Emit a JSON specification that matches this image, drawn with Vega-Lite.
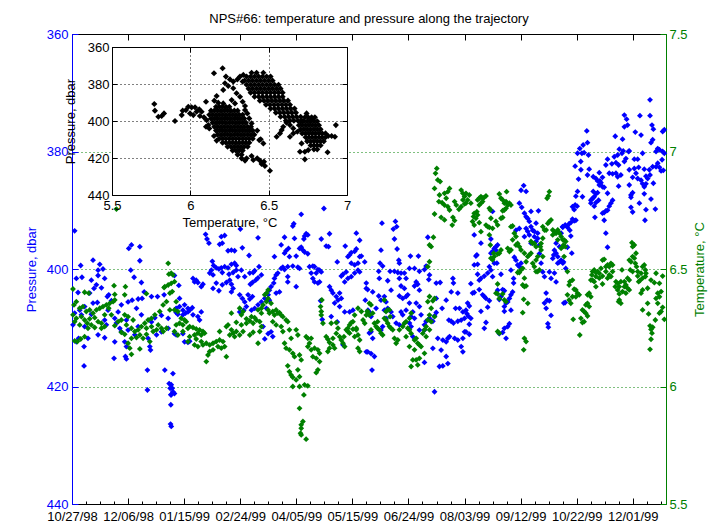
{
"$schema":"https://vega.github.io/schema/vega-lite/v6.json",
"width":594,"height":470,
"autosize":{"type":"none"},
"padding":{"left":72,"top":34,"right":55,"bottom":24},
"background":"white",
"title":{"text":"NPS#66: temperature and pressure along the trajectory","font":"Liberation Sans","fontSize":13,"fontWeight":"normal","color":"#000000","offset":2},
"config":{"view":{"stroke":null},"axis":{"labelFont":"Liberation Sans","labelFontSize":13,"titleFont":"Liberation Sans","titleFontSize":13,"titleFontWeight":"normal","domainWidth":1,"tickWidth":1,"labelFlush":false,"labelOverlap":false}},
"datasets":{
"P":[
{"d":1.9,"p":393.5},{"d":42.4,"p":395.9},{"d":40.5,"p":396.5},{"d":48.4,"p":396.2},{"d":15,"p":398.5},{"d":6.2,"p":399.4},{"d":19.8,"p":399.2},{"d":22.1,"p":400},{"d":18.6,"p":400.2},{"d":41.9,"p":400.2},{"d":48.4,"p":398.6},{"d":3.1,"p":401.6},{"d":7.1,"p":401.4},{"d":13.8,"p":401.9},{"d":18.6,"p":401.1},{"d":23.3,"p":401.6},{"d":44.3,"p":401.4},{"d":49.5,"p":402.3},{"d":17.4,"p":402.7},{"d":15.7,"p":403.3},{"d":21,"p":403.2},{"d":4.3,"p":404},{"d":12.6,"p":404.1},{"d":26.2,"p":404.4},{"d":25.2,"p":404.7},{"d":51.5,"p":403.9},{"d":56.7,"p":404.7},{"d":61,"p":404.7},{"d":65.7,"p":404.4},{"d":28.1,"p":405.4},{"d":35.2,"p":406.1},{"d":40,"p":405.6},{"d":42.9,"p":405.3},{"d":47.2,"p":405.1},{"d":50,"p":405},{"d":46,"p":406.7},{"d":15,"p":405.8},{"d":18.1,"p":405.7},{"d":9,"p":406.4},{"d":5.5,"p":407},{"d":1.9,"p":407.5},{"d":6.7,"p":407.8},{"d":13.8,"p":407.7},{"d":25.7,"p":407},{"d":32.9,"p":407.3},{"d":30.5,"p":408.4},{"d":23.3,"p":408.7},{"d":38.8,"p":408.7},{"d":49.5,"p":407.8},{"d":59.1,"p":408.3},{"d":63.8,"p":407.9},{"d":68.6,"p":408.4},{"d":0.7,"p":409.5},{"d":9,"p":409.8},{"d":24.5,"p":409.5},{"d":31.7,"p":409.2},{"d":34.1,"p":410.1},{"d":35.2,"p":410.7},{"d":40,"p":410.4},{"d":47.2,"p":409.8},{"d":56.7,"p":409},{"d":60.3,"p":411.2},{"d":63.8,"p":410.7},{"d":68.6,"p":410.1},{"d":4.7,"p":411.8},{"d":11.4,"p":411.8},{"d":18.6,"p":411.2},{"d":23.3,"p":411.7},{"d":30.5,"p":412.4},{"d":37.6,"p":412.4},{"d":38.8,"p":413.2},{"d":44.8,"p":411.2},{"d":54.3,"p":411.8},{"d":55.5,"p":413.2},{"d":56,"p":413.8},{"d":3.1,"p":412.4},{"d":8.6,"p":413.2},{"d":30,"p":415.2},{"d":38.1,"p":414.9},{"d":38.8,"p":415.3},{"d":8.6,"p":416.5},{"d":53.8,"p":417.2},{"d":66.2,"p":417.2},{"d":53.8,"p":420.6},{"d":69.3,"p":419.5},{"d":70,"p":420.3},{"d":70.5,"p":421.4},{"d":70.5,"p":423.1},
{"d":95.3,"p":394.1},{"d":96.3,"p":394.9},{"d":97.7,"p":395.6},{"d":106.5,"p":394.5},{"d":108.9,"p":394.3},{"d":105.3,"p":395.8},{"d":107.2,"p":395.6},{"d":120.1,"p":393.2},{"d":132.7,"p":394.7},{"d":126.3,"p":397.7},{"d":111.3,"p":396.9},{"d":113.7,"p":396.8},{"d":116,"p":396.9},{"d":121.5,"p":396.4},{"d":100.1,"p":398.7},{"d":101,"p":399.4},{"d":102.9,"p":399.8},{"d":104.8,"p":400},{"d":106.5,"p":399.8},{"d":108.9,"p":399.6},{"d":111.3,"p":399.8},{"d":113.7,"p":399.2},{"d":116,"p":399},{"d":117.2,"p":399.4},{"d":99.4,"p":400.2},{"d":98.2,"p":400.7},{"d":100.6,"p":401},{"d":107.2,"p":400.6},{"d":112,"p":400.9},{"d":114.9,"p":400.6},{"d":117.2,"p":400.2},{"d":118.4,"p":401.3},{"d":123.2,"p":401.3},{"d":126.8,"p":400.7},{"d":129.2,"p":400.6},{"d":130.3,"p":400.3},{"d":133.4,"p":399.6},{"d":135.1,"p":401},{"d":132.7,"p":401.5},{"d":131,"p":401.9},{"d":128.7,"p":402.3},{"d":127.2,"p":402.6},{"d":120.8,"p":400.2},{"d":112.5,"p":401.9},{"d":113.7,"p":402.6},{"d":114.9,"p":403.3},{"d":113.7,"p":403.9},{"d":110.1,"p":402.3},{"d":107.2,"p":402.7},{"d":102.9,"p":402.4},{"d":104.8,"p":403.7},{"d":100.6,"p":403.3},{"d":93.4,"p":402.6},{"d":92.2,"p":403},{"d":89.8,"p":402.3},{"d":88.6,"p":401.9},{"d":87.4,"p":402.2},{"d":86.3,"p":401.6},{"d":76.2,"p":402.8},{"d":73.1,"p":401.1},{"d":76.7,"p":405},{"d":80.3,"p":406.1},{"d":79.1,"p":407},{"d":76.7,"p":406.4},{"d":74.3,"p":406.7},{"d":82.7,"p":406.7},{"d":83.9,"p":407},{"d":85.8,"p":406.6},{"d":82.7,"p":407.3},{"d":81,"p":407.5},{"d":79.1,"p":407.8},{"d":75.5,"p":407.7},{"d":74.3,"p":407.4},{"d":86.3,"p":407.8},{"d":89.8,"p":408.1},{"d":91,"p":408.7},{"d":92.2,"p":407.3},{"d":119.6,"p":404.4},{"d":121.5,"p":405},{"d":123.2,"p":405.6},{"d":125.6,"p":404.4},{"d":126.8,"p":405.1},{"d":128.7,"p":404.7},{"d":124.4,"p":406.4},{"d":122.5,"p":407},{"d":119.6,"p":407.3},{"d":128,"p":407},{"d":130.3,"p":406.7},{"d":132.7,"p":406.1},{"d":135.1,"p":405.6},{"d":137.5,"p":405},{"d":138.7,"p":406.7},{"d":139.9,"p":404.4},{"d":73.1,"p":411},{"d":74.3,"p":411.2},{"d":79.1,"p":411},{"d":80.3,"p":412.4},{"d":82.7,"p":412.5},{"d":83.9,"p":412.3},{"d":136.3,"p":409.8},{"d":139.9,"p":411},{"d":137.5,"p":411.9},{"d":72,"p":417.8},{"d":70.8,"p":419.7},{"d":71.5,"p":420.3},{"d":72,"p":420.9},{"d":70.8,"p":421.4},{"d":73.1,"p":421.2},{"d":70.3,"p":426.4},{"d":70.8,"p":426.8},
{"d":163.5,"p":390.7},{"d":179.7,"p":389.7},{"d":158.2,"p":392.3},{"d":157.5,"p":392.7},{"d":151.6,"p":394.6},{"d":158.7,"p":394.8},{"d":165.9,"p":394.4},{"d":167,"p":394},{"d":168.2,"p":394.2},{"d":165.4,"p":394.9},{"d":177.8,"p":394.9},{"d":183.7,"p":394},{"d":181.3,"p":396.1},{"d":183,"p":396.2},{"d":202.8,"p":393.9},{"d":205.2,"p":395.1},{"d":149.2,"p":395.9},{"d":154.4,"p":396.5},{"d":152.7,"p":396.9},{"d":151.6,"p":397.3},{"d":163.5,"p":396.3},{"d":164.7,"p":396.8},{"d":165.9,"p":397.1},{"d":162.3,"p":396.5},{"d":144.4,"p":397.9},{"d":155.1,"p":397.9},{"d":159.9,"p":397.8},{"d":168.2,"p":397.4},{"d":194.9,"p":396.1},{"d":199.2,"p":397.2},{"d":201.6,"p":397},{"d":202.8,"p":396.6},{"d":198,"p":397.6},{"d":196.8,"p":397.9},{"d":205.2,"p":397.9},{"d":206.4,"p":397.8},{"d":208.8,"p":398.8},{"d":204,"p":399},{"d":201.6,"p":399.3},{"d":199.2,"p":399},{"d":189.2,"p":398.8},{"d":150.4,"p":399.7},{"d":151.6,"p":400.1},{"d":149.2,"p":399.9},{"d":146.8,"p":400.7},{"d":153.9,"p":399.6},{"d":157.5,"p":399.5},{"d":162.3,"p":399.9},{"d":161.1,"p":399.7},{"d":169.4,"p":399.6},{"d":171.8,"p":399.5},{"d":173,"p":399.6},{"d":175.4,"p":400.1},{"d":176.6,"p":400.2},{"d":177.8,"p":400.5},{"d":174.2,"p":400.7},{"d":170.6,"p":400.7},{"d":171.8,"p":401.6},{"d":173,"p":402.2},{"d":175.4,"p":402.4},{"d":176.6,"p":402.2},{"d":153.9,"p":402.2},{"d":159.9,"p":403},{"d":145.6,"p":401},{"d":144.4,"p":401.6},{"d":143.9,"p":402.4},{"d":142,"p":403},{"d":140.8,"p":403.6},{"d":145.6,"p":404.1},{"d":148,"p":403.9},{"d":153.9,"p":401.3},{"d":195.6,"p":400.5},{"d":193.3,"p":400.9},{"d":192.1,"p":401.2},{"d":194.5,"p":402.2},{"d":196.8,"p":401.6},{"d":199.2,"p":401.3},{"d":201.6,"p":400.7},{"d":204,"p":400.2},{"d":205.2,"p":400.5},{"d":183.7,"p":403},{"d":184.9,"p":403.6},{"d":186.1,"p":404.1},{"d":188.5,"p":404.7},{"d":189.7,"p":405.3},{"d":190.9,"p":404.1},{"d":192.1,"p":405},{"d":187.3,"p":405.8},{"d":190.9,"p":406.4},{"d":189.2,"p":409},{"d":177.3,"p":405.4},{"d":178.5,"p":408.6},{"d":184.9,"p":408.1},{"d":194.5,"p":407.3},{"d":198,"p":407.3},{"d":200.4,"p":407},{"d":209.9,"p":402.4},{"d":209.9,"p":403.3},{"d":209.2,"p":405.3},{"d":211.1,"p":407},{"d":142,"p":410.7},{"d":143.2,"p":411.5},{"d":193.3,"p":412.9},{"d":209.9,"p":414.1},{"d":140.8,"p":405.3},
{"d":221.1,"p":392.2},{"d":230.7,"p":391.9},{"d":231.6,"p":392.8},{"d":229.2,"p":393.2},{"d":230,"p":394.9},{"d":231.9,"p":396.6},{"d":220.4,"p":396.8},{"d":233.1,"p":398.5},{"d":233.5,"p":399},{"d":241.4,"p":397.8},{"d":247.1,"p":397.8},{"d":253.8,"p":394.6},{"d":219.7,"p":399},{"d":221.6,"p":399.5},{"d":218.8,"p":400.4},{"d":226.9,"p":400.4},{"d":230,"p":400.4},{"d":232.4,"p":400.6},{"d":234.7,"p":400.7},{"d":237.1,"p":400.7},{"d":240.7,"p":399.9},{"d":244.3,"p":399.9},{"d":247.8,"p":400.4},{"d":251.4,"p":400.1},{"d":252.6,"p":399.5},{"d":255,"p":401},{"d":254.5,"p":401.8},{"d":259.8,"p":402.4},{"d":262.6,"p":402.3},{"d":271.7,"p":401.6},{"d":272.1,"p":402.4},{"d":219.2,"p":401.6},{"d":225.2,"p":402},{"d":233.5,"p":401.6},{"d":238.3,"p":401.6},{"d":245.5,"p":402.2},{"d":246.6,"p":402.6},{"d":244.3,"p":402.9},{"d":247.8,"p":403.6},{"d":234.7,"p":402.9},{"d":237.1,"p":403.3},{"d":239.5,"p":404.4},{"d":238.3,"p":404.7},{"d":235.9,"p":405},{"d":233.5,"p":404.6},{"d":227.6,"p":403.6},{"d":222.8,"p":404.7},{"d":224,"p":405.6},{"d":220.4,"p":405.3},{"d":214.5,"p":403.9},{"d":218.8,"p":404.6},{"d":210.9,"p":403.5},{"d":216.9,"p":406.7},{"d":212.1,"p":407.3},{"d":213.3,"p":408.1},{"d":222.8,"p":407},{"d":225.2,"p":406.7},{"d":227.6,"p":407.3},{"d":228.8,"p":408.1},{"d":234.7,"p":407.3},{"d":235.9,"p":407.8},{"d":238.3,"p":407},{"d":240.7,"p":405.8},{"d":243.1,"p":407.3},{"d":244.3,"p":408.4},{"d":241.9,"p":408.1},{"d":245.5,"p":405.8},{"d":247.8,"p":406.4},{"d":249,"p":407.8},{"d":251.4,"p":409.5},{"d":252.6,"p":408.9},{"d":255,"p":408.4},{"d":257.4,"p":408.9},{"d":258.6,"p":408},{"d":259.8,"p":407.4},{"d":259.8,"p":405},{"d":266.9,"p":405.3},{"d":270.5,"p":403.9},{"d":275.2,"p":404.1},{"d":264,"p":406.7},{"d":273.6,"p":406.7},{"d":276.4,"p":406.7},{"d":278.8,"p":407.3},{"d":275.2,"p":408.9},{"d":277.6,"p":408.7},{"d":280,"p":408.4},{"d":268.8,"p":408.7},{"d":270.5,"p":408.9},{"d":272.1,"p":409.2},{"d":213.3,"p":410.7},{"d":212.1,"p":410.9},{"d":214.5,"p":411.8},{"d":210.9,"p":414.1},{"d":213.3,"p":414.4},{"d":215.7,"p":414.9},{"d":214,"p":417.2},{"d":224,"p":408.4},{"d":221.6,"p":409.8},{"d":220.4,"p":410.4},{"d":231.2,"p":409.2},{"d":233.5,"p":409.5},{"d":240.7,"p":409.2},{"d":241.9,"p":409.8},{"d":247.8,"p":410.4},{"d":243.1,"p":411.5},{"d":251.4,"p":410.4},{"d":260.9,"p":411.8},{"d":264.5,"p":412.1},{"d":266.9,"p":412.4},{"d":268.1,"p":411.8},{"d":269.3,"p":411.5},{"d":272.9,"p":411.8},{"d":275.2,"p":412.1},{"d":278.8,"p":411.8},{"d":280,"p":410.7},{"d":257.4,"p":413.5},{"d":263.3,"p":413.8},{"d":266.9,"p":414.9},{"d":262.1,"p":416.6},{"d":264.5,"p":416.5},{"d":268.1,"p":416.1},{"d":251.4,"p":415.9},{"d":277.6,"p":413.2},{"d":278.8,"p":414.1},{"d":258.6,"p":420.9},
{"d":322.2,"p":385.8},{"d":320.3,"p":386.6},{"d":323.9,"p":386.8},{"d":319.1,"p":388.8},{"d":320.8,"p":389.5},{"d":322.7,"p":390.5},{"d":323.9,"p":391.1},{"d":325.1,"p":391.4},{"d":327.4,"p":390.2},{"d":332.7,"p":390.1},{"d":326.2,"p":391.9},{"d":319.1,"p":393.1},{"d":316.7,"p":393.4},{"d":323.9,"p":393.1},{"d":327.4,"p":392.8},{"d":328.6,"p":393.4},{"d":329.8,"p":393.6},{"d":331,"p":392.2},{"d":325.1,"p":393.6},{"d":326.2,"p":394.2},{"d":329.8,"p":394.5},{"d":332.2,"p":394.8},{"d":331,"p":395.3},{"d":333.4,"p":395.9},{"d":322.7,"p":394.5},{"d":327.4,"p":395.6},{"d":300,"p":390.2},{"d":286.9,"p":394.2},{"d":291.7,"p":395.6},{"d":298.8,"p":394.9},{"d":303.6,"p":395.9},{"d":302.4,"p":396.2},{"d":301.2,"p":396.5},{"d":300,"p":397},{"d":302.4,"p":396.8},{"d":298.8,"p":397.3},{"d":301.2,"p":399},{"d":303.1,"p":399},{"d":297.7,"p":399.6},{"d":298.8,"p":400.2},{"d":286.9,"p":399.3},{"d":289.3,"p":399.2},{"d":288.1,"p":397.8},{"d":288.8,"p":397.6},{"d":296.5,"p":400.7},{"d":294.1,"p":401.2},{"d":291.7,"p":401.6},{"d":290.5,"p":401.9},{"d":289.3,"p":400.9},{"d":284.5,"p":402.5},{"d":285.7,"p":404.1},{"d":286.9,"p":404},{"d":290.5,"p":403.5},{"d":292.9,"p":404.4},{"d":294.1,"p":404.7},{"d":295.3,"p":405},{"d":297.7,"p":405.4},{"d":306,"p":400.9},{"d":313.1,"p":400.2},{"d":315.5,"p":398},{"d":316.7,"p":398.5},{"d":317.9,"p":399.3},{"d":319.1,"p":399.6},{"d":320.3,"p":399},{"d":315,"p":401.6},{"d":315,"p":402.4},{"d":314.3,"p":403.9},{"d":313.1,"p":404.4},{"d":312,"p":405},{"d":310.8,"p":405.6},{"d":309.6,"p":405.8},{"d":308.4,"p":406.4},{"d":306,"p":404.7},{"d":304.8,"p":405.2},{"d":303.6,"p":403.6},{"d":307.2,"p":403.5},{"d":308.4,"p":403.7},{"d":300,"p":401.3},{"d":296.5,"p":406.5},{"d":291.7,"p":407.2},{"d":308.4,"p":407.2},{"d":313.1,"p":407},{"d":282.2,"p":405.8},{"d":283.4,"p":406.3},{"d":281,"p":407},{"d":281.7,"p":407.6},{"d":282.6,"p":408},{"d":284.5,"p":408.4},{"d":283.4,"p":409.4},{"d":283.4,"p":411.1},{"d":281,"p":410.7},{"d":295.3,"p":409.1},{"d":294.1,"p":410.1},{"d":312,"p":409.3},{"d":310.8,"p":409.8},{"d":308.4,"p":410.1},{"d":307.2,"p":410.8},{"d":309.6,"p":411.8},{"d":304.8,"p":411},{"d":335.8,"p":400.5},{"d":337,"p":401.3},{"d":340.5,"p":400.5},{"d":341.7,"p":401.6},{"d":345.3,"p":402.2},{"d":344.1,"p":400.7},{"d":346.5,"p":399},{"d":347.7,"p":398.8},{"d":348.9,"p":398.5},{"d":344.1,"p":396.8},{"d":345.3,"p":397.3},{"d":346.5,"p":397.9},{"d":347.7,"p":396.2},{"d":350.1,"p":399},{"d":338.2,"p":404.1},{"d":338.9,"p":405.3},{"d":340.5,"p":405.4},{"d":338.2,"p":406.7},{"d":337,"p":405.8},{"d":341.7,"p":407.9},{"d":339.4,"p":409.3},{"d":339.8,"p":409.9},{"d":350.8,"p":405.8},{"d":334.6,"p":399},{"d":333.4,"p":397.4},{"d":342.9,"p":398.2},{"d":343.6,"p":397.6},{"d":345.3,"p":395.6},{"d":350.1,"p":392.9},{"d":348.9,"p":393.9},{"d":332.2,"p":393.9},
{"d":412.3,"p":371.2},{"d":405.1,"p":373.9},{"d":412.3,"p":373.9},{"d":394,"p":373.8},{"d":395.6,"p":374.5},{"d":394,"p":375.8},{"d":396.3,"p":375.5},{"d":413.7,"p":375.5},{"d":414.7,"p":376.2},{"d":421.3,"p":376.6},{"d":422.5,"p":376.3},{"d":367.2,"p":376.5},{"d":387.5,"p":377.4},{"d":392.7,"p":377.9},{"d":405.9,"p":377.2},{"d":401.8,"p":376.7},{"d":414.2,"p":378},{"d":413,"p":378.5},{"d":364.6,"p":378.9},{"d":367.7,"p":378.5},{"d":362.2,"p":379.5},{"d":363.7,"p":380.3},{"d":365.3,"p":380.2},{"d":360.6,"p":380.3},{"d":368.4,"p":380.6},{"d":390.4,"p":379.6},{"d":393.2,"p":379.9},{"d":397,"p":380},{"d":397.5,"p":379.9},{"d":392.3,"p":380.3},{"d":389.2,"p":380.6},{"d":386.8,"p":380.9},{"d":382,"p":381.3},{"d":385.1,"p":382.1},{"d":388,"p":381.9},{"d":389.9,"p":382.3},{"d":394,"p":381.7},{"d":395.1,"p":381.2},{"d":407,"p":380.3},{"d":401.1,"p":381.3},{"d":403.5,"p":381.3},{"d":416.6,"p":380},{"d":417.8,"p":379.5},{"d":419,"p":379.7},{"d":421.3,"p":380},{"d":422.5,"p":380.3},{"d":417.8,"p":382},{"d":416.6,"p":382.6},{"d":419,"p":382.7},{"d":420.2,"p":383.3},{"d":421.8,"p":383.2},{"d":420.9,"p":381.4},{"d":414.2,"p":382.6},{"d":411.8,"p":383.1},{"d":412.3,"p":384},{"d":410.6,"p":384.6},{"d":409.4,"p":384.2},{"d":407,"p":385.5},{"d":409.4,"p":385.5},{"d":408.2,"p":386},{"d":405.9,"p":384.9},{"d":403.5,"p":384.6},{"d":402.3,"p":383.7},{"d":401.1,"p":382.9},{"d":404.2,"p":382.7},{"d":408.2,"p":383},{"d":362.9,"p":381.7},{"d":358.9,"p":382.5},{"d":368.9,"p":383},{"d":363,"p":383.1},{"d":361.3,"p":384.7},{"d":367.7,"p":384},{"d":371.8,"p":384.3},{"d":376.1,"p":383.6},{"d":380.8,"p":382.3},{"d":383.2,"p":383.7},{"d":385.6,"p":383.8},{"d":388,"p":383.7},{"d":389.2,"p":384.3},{"d":391.5,"p":384},{"d":397.5,"p":383.1},{"d":399.9,"p":384.4},{"d":378.4,"p":384.4},{"d":376.5,"p":385},{"d":376.1,"p":385.7},{"d":378.4,"p":386},{"d":379.6,"p":386.1},{"d":377.3,"p":385.3},{"d":374.9,"p":385},{"d":373.7,"p":384.6},{"d":382,"p":387.1},{"d":389.9,"p":385.9},{"d":397.5,"p":385.7},{"d":398.7,"p":387.4},{"d":399.9,"p":387},{"d":398.7,"p":387.8},{"d":414.7,"p":385.4},{"d":408.2,"p":387.2},{"d":404.7,"p":388.8},{"d":409.4,"p":389.9},{"d":416.1,"p":389.8},{"d":413,"p":388.1},{"d":398.7,"p":389.5},{"d":399.9,"p":390.3},{"d":408.7,"p":391.7},{"d":360.6,"p":386.8},{"d":359.4,"p":387.6},{"d":357,"p":389.4},{"d":358.9,"p":389.1},{"d":360.3,"p":389.3},{"d":364.1,"p":387.7},{"d":370.1,"p":388.3},{"d":371.3,"p":388},{"d":372.5,"p":387.7},{"d":373.7,"p":387.2},{"d":374.9,"p":387},{"d":371.8,"p":386.8},{"d":370.1,"p":388.8},{"d":372.5,"p":389.3},{"d":373.7,"p":388.7},{"d":375.6,"p":388.3},{"d":385.6,"p":388.3},{"d":384.4,"p":388.8},{"d":383.2,"p":389.3},{"d":382,"p":390},{"d":380.8,"p":390.1},{"d":379.6,"p":390.4},{"d":378.4,"p":390.5},{"d":373,"p":391.2},{"d":379.6,"p":391.7},{"d":358.2,"p":389.9},{"d":357,"p":391.5},{"d":359.4,"p":391.7},{"d":358.2,"p":391.8},{"d":355.8,"p":392.1},{"d":354.6,"p":392.3},{"d":353.4,"p":392.9},{"d":355.1,"p":393.4},{"d":351.8,"p":392.5},{"d":349.9,"p":392.8},{"d":355.8,"p":394.4},{"d":380.8,"p":393.9},{"d":382,"p":396.3},{"d":353.4,"p":396.3},{"d":356.5,"p":397.3},{"d":350.6,"p":398.8},{"d":352.2,"p":399.9},{"d":351.8,"p":405.7}
],
"T":[
{"d":31.7,"t":6.755},{"d":68.6,"t":6.524},{"d":69.1,"t":6.478},{"d":68.6,"t":6.432},{"d":69.8,"t":6.397},{"d":66.2,"t":6.425},{"d":0.7,"t":6.415},{"d":9,"t":6.401},{"d":11.9,"t":6.397},{"d":30,"t":6.429},{"d":30.5,"t":6.392},{"d":38.1,"t":6.425},{"d":37.6,"t":6.39},{"d":53.1,"t":6.395},{"d":65.7,"t":6.421},{"d":3.1,"t":6.361},{"d":1.4,"t":6.347},{"d":5.5,"t":6.333},{"d":7.8,"t":6.34},{"d":10.2,"t":6.319},{"d":12.6,"t":6.326},{"d":15,"t":6.312},{"d":17.4,"t":6.326},{"d":19.8,"t":6.333},{"d":22.1,"t":6.34},{"d":24.5,"t":6.347},{"d":26.9,"t":6.354},{"d":29.3,"t":6.361},{"d":30.5,"t":6.368},{"d":26.2,"t":6.333},{"d":23.3,"t":6.305},{"d":28.1,"t":6.305},{"d":0.7,"t":6.305},{"d":3.1,"t":6.29},{"d":6.7,"t":6.297},{"d":9,"t":6.283},{"d":12.6,"t":6.288},{"d":16.2,"t":6.293},{"d":18.6,"t":6.276},{"d":21,"t":6.269},{"d":23.3,"t":6.255},{"d":13.8,"t":6.262},{"d":10.9,"t":6.269},{"d":5.5,"t":6.262},{"d":1.9,"t":6.276},{"d":32.9,"t":6.276},{"d":35.2,"t":6.283},{"d":37.6,"t":6.305},{"d":40,"t":6.297},{"d":43.6,"t":6.283},{"d":38.8,"t":6.262},{"d":42.4,"t":6.248},{"d":44.8,"t":6.234},{"d":47.2,"t":6.241},{"d":49.5,"t":6.255},{"d":51.9,"t":6.269},{"d":54.3,"t":6.283},{"d":56.7,"t":6.29},{"d":59.1,"t":6.305},{"d":62.6,"t":6.319},{"d":65,"t":6.347},{"d":67.4,"t":6.361},{"d":69.8,"t":6.326},{"d":61.5,"t":6.262},{"d":63.8,"t":6.248},{"d":56.7,"t":6.255},{"d":53.1,"t":6.248},{"d":48.4,"t":6.219},{"d":46,"t":6.208},{"d":50.7,"t":6.205},{"d":42.4,"t":6.205},{"d":40,"t":6.184},{"d":41.2,"t":6.163},{"d":42.4,"t":6.137},{"d":48.4,"t":6.16},{"d":1.9,"t":6.194},{"d":6.2,"t":6.202},{"d":3.8,"t":6.191},{"d":9,"t":6.212},{"d":11.4,"t":6.248},{"d":16.2,"t":6.251},{"d":21,"t":6.248},{"d":30.5,"t":6.259},{"d":35.2,"t":6.231},{"d":37.6,"t":6.222},{"d":57.9,"t":6.234},{"d":60.3,"t":6.241},{"d":65,"t":6.234},{"d":67.4,"t":6.248},{"d":55.5,"t":6.191},{"d":53.1,"t":6.222},
{"d":70.8,"t":6.482},{"d":72,"t":6.475},{"d":70.8,"t":6.439},{"d":73.1,"t":6.446},{"d":71.5,"t":6.404},{"d":74.3,"t":6.361},{"d":73.1,"t":6.326},{"d":75.5,"t":6.319},{"d":77.9,"t":6.29},{"d":80.3,"t":6.283},{"d":81.5,"t":6.276},{"d":79.1,"t":6.262},{"d":76.7,"t":6.269},{"d":74.3,"t":6.262},{"d":73.1,"t":6.234},{"d":75.5,"t":6.219},{"d":79.1,"t":6.234},{"d":82.7,"t":6.248},{"d":83.9,"t":6.255},{"d":86.3,"t":6.251},{"d":88.6,"t":6.245},{"d":91,"t":6.241},{"d":93.4,"t":6.234},{"d":89.8,"t":6.227},{"d":87.4,"t":6.219},{"d":92.2,"t":6.219},{"d":94.6,"t":6.227},{"d":88.6,"t":6.202},{"d":92.2,"t":6.191},{"d":95.8,"t":6.184},{"d":93.4,"t":6.177},{"d":83.9,"t":6.212},{"d":82.7,"t":6.191},{"d":87.4,"t":6.177},{"d":89.8,"t":6.17},{"d":98.2,"t":6.177},{"d":100.6,"t":6.184},{"d":102.9,"t":6.191},{"d":105.3,"t":6.198},{"d":107.7,"t":6.191},{"d":104.1,"t":6.17},{"d":106.5,"t":6.163},{"d":100.6,"t":6.156},{"d":98.2,"t":6.149},{"d":97,"t":6.134},{"d":95.8,"t":6.106},{"d":110.1,"t":6.127},{"d":108.9,"t":6.17},{"d":105.3,"t":6.234},{"d":110.1,"t":6.255},{"d":113.7,"t":6.241},{"d":114.9,"t":6.227},{"d":117.2,"t":6.234},{"d":112.5,"t":6.219},{"d":116,"t":6.212},{"d":119.6,"t":6.219},{"d":122,"t":6.234},{"d":126.8,"t":6.219},{"d":129.2,"t":6.231},{"d":132.7,"t":6.184},{"d":133.9,"t":6.234},{"d":113.7,"t":6.312},{"d":120.8,"t":6.305},{"d":119.6,"t":6.333},{"d":122,"t":6.319},{"d":124.4,"t":6.288},{"d":126.8,"t":6.279},{"d":128,"t":6.297},{"d":130.3,"t":6.293},{"d":131.5,"t":6.283},{"d":133.9,"t":6.276},{"d":135.1,"t":6.312},{"d":136.3,"t":6.347},{"d":138.7,"t":6.361},{"d":139.9,"t":6.375},{"d":137.5,"t":6.39},{"d":138.7,"t":6.397},{"d":139.9,"t":6.411},{"d":135.1,"t":6.333},{"d":132.7,"t":6.326},{"d":129.2,"t":6.269},{"d":124.4,"t":6.269},{"d":120.8,"t":6.262},{"d":117.2,"t":6.273},{"d":111.3,"t":6.262},{"d":135.1,"t":6.255},{"d":139.9,"t":6.326},
{"d":140.8,"t":6.312},{"d":142,"t":6.354},{"d":143.2,"t":6.319},{"d":144.4,"t":6.304},{"d":145.6,"t":6.326},{"d":146.8,"t":6.312},{"d":148,"t":6.314},{"d":149.2,"t":6.304},{"d":150.4,"t":6.297},{"d":152.7,"t":6.283},{"d":153.9,"t":6.276},{"d":143.2,"t":6.276},{"d":145.6,"t":6.262},{"d":149.2,"t":6.255},{"d":150.4,"t":6.234},{"d":155.1,"t":6.241},{"d":159.9,"t":6.241},{"d":161.1,"t":6.219},{"d":156.3,"t":6.205},{"d":151.6,"t":6.184},{"d":152.7,"t":6.163},{"d":155.1,"t":6.156},{"d":157.5,"t":6.141},{"d":158.7,"t":6.127},{"d":162.3,"t":6.134},{"d":163.5,"t":6.113},{"d":153.9,"t":6.088},{"d":155.1,"t":6.063},{"d":156.3,"t":6.049},{"d":157.5,"t":6.039},{"d":161.1,"t":6.071},{"d":162.3,"t":6.042},{"d":159.9,"t":6.028},{"d":157.5,"t":6},{"d":162.3,"t":6},{"d":165.9,"t":6.007},{"d":168.2,"t":6.003},{"d":165.4,"t":5.964},{"d":162.3,"t":5.907},{"d":164.7,"t":5.851},{"d":163.5,"t":5.837},{"d":163.5,"t":5.822},{"d":163,"t":5.801},{"d":163.5,"t":5.794},{"d":167,"t":5.776},{"d":167,"t":6.212},{"d":168.2,"t":6.205},{"d":170.6,"t":6.205},{"d":169.4,"t":6.184},{"d":168.2,"t":6.17},{"d":170.6,"t":6.156},{"d":173,"t":6.163},{"d":175.4,"t":6.156},{"d":176.6,"t":6.141},{"d":171.8,"t":6.127},{"d":174.2,"t":6.12},{"d":175.4,"t":6.071},{"d":174.2,"t":6.059},{"d":176.6,"t":6.106},{"d":178.2,"t":6.368},{"d":177.3,"t":6.34},{"d":177.8,"t":6.319},{"d":177.8,"t":6.304},{"d":179,"t":6.269},{"d":181.3,"t":6.212},{"d":182.5,"t":6.201},{"d":183.7,"t":6.187},{"d":183.7,"t":6.163},{"d":182.5,"t":6.149},{"d":186.1,"t":6.205},{"d":188.5,"t":6.226},{"d":189.7,"t":6.248},{"d":190.9,"t":6.212},{"d":192.1,"t":6.198},{"d":193.3,"t":6.184},{"d":194.5,"t":6.17},{"d":194,"t":6.212},{"d":195.6,"t":6.241},{"d":196.8,"t":6.248},{"d":198,"t":6.262},{"d":199.2,"t":6.272},{"d":200.4,"t":6.276},{"d":196.8,"t":6.234},{"d":198,"t":6.227},{"d":200.4,"t":6.244},{"d":202.8,"t":6.241},{"d":204,"t":6.219},{"d":205.2,"t":6.198},{"d":204,"t":6.163},{"d":205.2,"t":6.149},{"d":184.9,"t":6.269},{"d":188.5,"t":6.272},{"d":201.6,"t":6.304},{"d":204,"t":6.333},{"d":206.4,"t":6.319},{"d":207.6,"t":6.283},{"d":208.8,"t":6.269},{"d":209.9,"t":6.304},{"d":210.6,"t":6.319},{"d":186.1,"t":6.177},{"d":187.3,"t":6.163},{"d":201.6,"t":6.212},{"d":202.8,"t":6.248},
{"d":260.2,"t":6.928},{"d":259.3,"t":6.907},{"d":260.9,"t":6.879},{"d":262.6,"t":6.872},{"d":258.6,"t":6.843},{"d":262.1,"t":6.815},{"d":265.7,"t":6.822},{"d":268.1,"t":6.829},{"d":266.9,"t":6.801},{"d":269.3,"t":6.843},{"d":261.7,"t":6.787},{"d":264,"t":6.782},{"d":265.7,"t":6.772},{"d":268.1,"t":6.765},{"d":269.3,"t":6.751},{"d":272.9,"t":6.787},{"d":274.1,"t":6.772},{"d":276,"t":6.754},{"d":277.6,"t":6.765},{"d":278.8,"t":6.794},{"d":280,"t":6.808},{"d":277.6,"t":6.836},{"d":278.8,"t":6.822},{"d":280,"t":6.777},{"d":258.6,"t":6.734},{"d":263.3,"t":6.72},{"d":265.7,"t":6.709},{"d":271.7,"t":6.72},{"d":272.9,"t":6.706},{"d":271.2,"t":6.687},{"d":257.8,"t":6.635},{"d":255,"t":6.602},{"d":256.2,"t":6.595},{"d":255,"t":6.531},{"d":253.8,"t":6.51},{"d":212.1,"t":6.354},{"d":213.3,"t":6.347},{"d":210.9,"t":6.319},{"d":212.1,"t":6.304},{"d":214.5,"t":6.312},{"d":215.7,"t":6.269},{"d":216.9,"t":6.255},{"d":218,"t":6.248},{"d":219.2,"t":6.241},{"d":220.4,"t":6.227},{"d":221.6,"t":6.219},{"d":213.3,"t":6.241},{"d":218,"t":6.276},{"d":224,"t":6.283},{"d":225.2,"t":6.269},{"d":226.4,"t":6.255},{"d":227.6,"t":6.248},{"d":222.8,"t":6.29},{"d":224,"t":6.319},{"d":225.2,"t":6.326},{"d":228.8,"t":6.241},{"d":230,"t":6.205},{"d":231.2,"t":6.184},{"d":232.4,"t":6.198},{"d":233.5,"t":6.241},{"d":235.9,"t":6.255},{"d":237.1,"t":6.269},{"d":238.3,"t":6.276},{"d":239.5,"t":6.248},{"d":240.7,"t":6.241},{"d":241.9,"t":6.226},{"d":240.7,"t":6.29},{"d":241.9,"t":6.312},{"d":238.3,"t":6.212},{"d":244.3,"t":6.198},{"d":245.5,"t":6.205},{"d":246.6,"t":6.184},{"d":247.8,"t":6.177},{"d":249,"t":6.17},{"d":244.3,"t":6.156},{"d":243.1,"t":6.113},{"d":245.5,"t":6.113},{"d":247.8,"t":6.12},{"d":246.6,"t":6.092},{"d":241.9,"t":6.085},{"d":251.4,"t":6.141},{"d":250.2,"t":6.226},{"d":251.4,"t":6.241},{"d":252.6,"t":6.255},{"d":253.8,"t":6.283},{"d":255,"t":6.304},{"d":256.2,"t":6.333},{"d":253.8,"t":6.361},{"d":255,"t":6.383},{"d":257.4,"t":6.365},{"d":258.6,"t":6.375},{"d":252.6,"t":6.212},{"d":255,"t":6.241},{"d":256.2,"t":6.276},{"d":258.6,"t":6.297},{"d":226.4,"t":6.326},{"d":226.9,"t":6.297},{"d":222.8,"t":6.368},{"d":240.7,"t":6.17},
{"d":281,"t":6.822},{"d":283.4,"t":6.815},{"d":282.2,"t":6.794},{"d":284.5,"t":6.78},{"d":281,"t":6.78},{"d":289.3,"t":6.794},{"d":290.5,"t":6.801},{"d":291.7,"t":6.808},{"d":292.9,"t":6.801},{"d":294.1,"t":6.805},{"d":295.3,"t":6.811},{"d":292.9,"t":6.787},{"d":291.7,"t":6.78},{"d":290.5,"t":6.772},{"d":288.8,"t":6.744},{"d":286.9,"t":6.737},{"d":286.4,"t":6.723},{"d":288.1,"t":6.716},{"d":285.7,"t":6.702},{"d":286.9,"t":6.687},{"d":289.3,"t":6.73},{"d":304.8,"t":6.819},{"d":306,"t":6.801},{"d":307.2,"t":6.794},{"d":308.4,"t":6.78},{"d":309.6,"t":6.787},{"d":310.8,"t":6.772},{"d":312,"t":6.78},{"d":313.1,"t":6.772},{"d":309.6,"t":6.758},{"d":308.4,"t":6.751},{"d":307.2,"t":6.748},{"d":310,"t":6.829},{"d":297.7,"t":6.758},{"d":298.4,"t":6.751},{"d":298.8,"t":6.716},{"d":302.4,"t":6.702},{"d":306,"t":6.716},{"d":307.2,"t":6.719},{"d":303.6,"t":6.687},{"d":291.7,"t":6.659},{"d":295.3,"t":6.687},{"d":296.5,"t":6.68},{"d":297.7,"t":6.677},{"d":300,"t":6.673},{"d":290.5,"t":6.697},{"d":313.1,"t":6.68},{"d":314.3,"t":6.683},{"d":315.5,"t":6.652},{"d":316.7,"t":6.638},{"d":317.9,"t":6.609},{"d":319.1,"t":6.595},{"d":316.7,"t":6.602},{"d":314.3,"t":6.624},{"d":313.1,"t":6.581},{"d":312,"t":6.574},{"d":310.8,"t":6.588},{"d":303.6,"t":6.564},{"d":304.8,"t":6.567},{"d":306,"t":6.581},{"d":300.8,"t":6.567},{"d":298.8,"t":6.546},{"d":300,"t":6.539},{"d":301.2,"t":6.553},{"d":298.4,"t":6.602},{"d":297.7,"t":6.645},{"d":320.3,"t":6.581},{"d":322.7,"t":6.567},{"d":323.9,"t":6.531},{"d":325.1,"t":6.553},{"d":326.2,"t":6.56},{"d":327.4,"t":6.567},{"d":328.6,"t":6.609},{"d":329.8,"t":6.609},{"d":331,"t":6.595},{"d":327.4,"t":6.617},{"d":329.8,"t":6.51},{"d":331,"t":6.489},{"d":332.2,"t":6.489},{"d":333.4,"t":6.496},{"d":328.6,"t":6.524},{"d":320.3,"t":6.496},{"d":319.1,"t":6.485},{"d":321.5,"t":6.503},{"d":317.9,"t":6.485},{"d":322.7,"t":6.461},{"d":321.5,"t":6.432},{"d":322.7,"t":6.425},{"d":323.9,"t":6.428},{"d":325.1,"t":6.354},{"d":322.2,"t":6.371},{"d":321.5,"t":6.314},{"d":303.6,"t":6.436},{"d":302.4,"t":6.397},{"d":303.6,"t":6.394},{"d":304.8,"t":6.375},{"d":308.4,"t":6.368},{"d":309.6,"t":6.361},{"d":307.2,"t":6.394},{"d":303.6,"t":6.234},{"d":304.8,"t":6.227},{"d":322.7,"t":6.205},{"d":323.9,"t":6.191},{"d":322.2,"t":6.156},{"d":334.1,"t":6.595},{"d":334.6,"t":6.609},{"d":335.8,"t":6.631},{"d":337,"t":6.666},{"d":338.2,"t":6.666},{"d":335.8,"t":6.68},{"d":339.4,"t":6.694},{"d":340.5,"t":6.702},{"d":341.7,"t":6.709},{"d":342.9,"t":6.666},{"d":344.1,"t":6.659},{"d":345.3,"t":6.652},{"d":346.5,"t":6.666},{"d":347.7,"t":6.652},{"d":348.9,"t":6.638},{"d":350.1,"t":6.624},{"d":338.9,"t":6.801},{"d":339.8,"t":6.811},{"d":340.5,"t":6.829},{"d":342.9,"t":6.645},{"d":346.5,"t":6.624},{"d":348.9,"t":6.588},{"d":350.1,"t":6.595},{"d":332.2,"t":6.553},{"d":331,"t":6.538},{"d":334.6,"t":6.581},{"d":335.8,"t":6.553},
{"d":399.4,"t":6.612},{"d":401.1,"t":6.602},{"d":399.9,"t":6.595},{"d":402.3,"t":6.567},{"d":401.1,"t":6.546},{"d":399.9,"t":6.553},{"d":397.5,"t":6.538},{"d":398.7,"t":6.531},{"d":401.8,"t":6.524},{"d":402.7,"t":6.51},{"d":403.5,"t":6.489},{"d":405.9,"t":6.482},{"d":407,"t":6.51},{"d":408.2,"t":6.517},{"d":409,"t":6.496},{"d":409.4,"t":6.482},{"d":403.5,"t":6.47},{"d":404.2,"t":6.446},{"d":405.1,"t":6.451},{"d":407,"t":6.461},{"d":409,"t":6.468},{"d":407,"t":6.411},{"d":405.9,"t":6.397},{"d":410.6,"t":6.418},{"d":413,"t":6.453},{"d":416.6,"t":6.482},{"d":415.4,"t":6.442},{"d":419,"t":6.439},{"d":421.3,"t":6.47},{"d":420.2,"t":6.404},{"d":417.8,"t":6.397},{"d":419,"t":6.382},{"d":416.6,"t":6.375},{"d":421.3,"t":6.337},{"d":417.8,"t":6.354},{"d":420.2,"t":6.319},{"d":410.6,"t":6.354},{"d":407,"t":6.326},{"d":411.3,"t":6.309},{"d":412.3,"t":6.258},{"d":413,"t":6.243},{"d":414.2,"t":6.252},{"d":413.7,"t":6.227},{"d":413,"t":6.201},{"d":412.3,"t":6.158},{"d":416.1,"t":6.283},{"d":419,"t":6.312},{"d":422.5,"t":6.286},{"d":351,"t":6.624},{"d":352.2,"t":6.617},{"d":350.6,"t":6.602},{"d":351.8,"t":6.595},{"d":351,"t":6.553},{"d":353.4,"t":6.489},{"d":355.1,"t":6.446},{"d":354.6,"t":6.432},{"d":357,"t":6.453},{"d":358.2,"t":6.414},{"d":359.4,"t":6.411},{"d":360.6,"t":6.397},{"d":361.8,"t":6.39},{"d":359.4,"t":6.382},{"d":357,"t":6.382},{"d":354.6,"t":6.368},{"d":355.8,"t":6.354},{"d":353.4,"t":6.39},{"d":367.7,"t":6.39},{"d":368.9,"t":6.397},{"d":370.1,"t":6.382},{"d":367.7,"t":6.354},{"d":366.5,"t":6.347},{"d":368.9,"t":6.34},{"d":364.1,"t":6.326},{"d":365.3,"t":6.319},{"d":366.5,"t":6.312},{"d":363,"t":6.29},{"d":364.1,"t":6.272},{"d":365.3,"t":6.276},{"d":367.7,"t":6.3},{"d":362.2,"t":6.219},{"d":357.5,"t":6.286},{"d":371.3,"t":6.489},{"d":372.5,"t":6.496},{"d":373.7,"t":6.485},{"d":374.9,"t":6.489},{"d":376.1,"t":6.482},{"d":377.3,"t":6.503},{"d":378.4,"t":6.538},{"d":379.6,"t":6.541},{"d":380.8,"t":6.51},{"d":382,"t":6.517},{"d":383.2,"t":6.51},{"d":384.4,"t":6.524},{"d":385.6,"t":6.517},{"d":380.8,"t":6.489},{"d":383.2,"t":6.475},{"d":382,"t":6.461},{"d":384.4,"t":6.468},{"d":385.6,"t":6.489},{"d":378.4,"t":6.47},{"d":373.7,"t":6.468},{"d":372.5,"t":6.446},{"d":371.3,"t":6.453},{"d":370.1,"t":6.453},{"d":370.8,"t":6.475},{"d":373.7,"t":6.425},{"d":378.4,"t":6.436},{"d":376.1,"t":6.461},{"d":388,"t":6.446},{"d":389.2,"t":6.439},{"d":390.4,"t":6.425},{"d":391.5,"t":6.446},{"d":394,"t":6.446},{"d":395.1,"t":6.432},{"d":396.3,"t":6.461},{"d":397.5,"t":6.453},{"d":392.3,"t":6.496},{"d":387.5,"t":6.425},{"d":389.2,"t":6.411},{"d":390.4,"t":6.394},{"d":392.7,"t":6.404},{"d":395.1,"t":6.397},{"d":396.3,"t":6.418},{"d":397.5,"t":6.411},{"d":394,"t":6.425},{"d":390.4,"t":6.368},{"d":389.9,"t":6.361},{"d":391.5,"t":6.354},{"d":398.2,"t":6.496},{"d":399.9,"t":6.489}
],
"I":[
{"t":5.77,"p":390.8},{"t":5.774,"p":394.4},{"t":5.796,"p":397.7},{"t":5.817,"p":397.3},{"t":5.832,"p":395.9},{"t":5.902,"p":400},{"t":5.945,"p":396.8},{"t":5.951,"p":394.4},{"t":5.972,"p":394.1},{"t":5.987,"p":392.3},{"t":6.008,"p":392.6},{"t":6.03,"p":392.6},{"t":5.998,"p":395.9},{"t":6.019,"p":396.8},{"t":6.04,"p":395},{"t":6.057,"p":393.7},{"t":6.072,"p":395},{"t":6.061,"p":397.3},{"t":6.087,"p":398},{"t":6.1,"p":389.6},{"t":6.104,"p":399.5},{"t":6.115,"p":402.2},{"t":6.1,"p":403.1},{"t":6.121,"p":404},
{"t":6.164,"p":392.3},{"t":6.185,"p":392.3},{"t":6.206,"p":392.3},{"t":6.227,"p":392.3},{"t":6.249,"p":392.3},
{"t":6.132,"p":394.4},{"t":6.153,"p":394.4},{"t":6.174,"p":394.4},{"t":6.196,"p":394.4},{"t":6.217,"p":394.4},{"t":6.238,"p":394.4},{"t":6.259,"p":394.4},{"t":6.281,"p":394.4},{"t":6.302,"p":394.4},
{"t":6.121,"p":396.6},{"t":6.142,"p":396.6},{"t":6.164,"p":396.6},{"t":6.185,"p":396.6},{"t":6.206,"p":396.6},{"t":6.227,"p":396.6},{"t":6.249,"p":396.6},{"t":6.27,"p":396.6},{"t":6.291,"p":396.6},{"t":6.312,"p":396.6},{"t":6.334,"p":396.6},
{"t":6.132,"p":398.7},{"t":6.153,"p":398.7},{"t":6.174,"p":398.7},{"t":6.196,"p":398.7},{"t":6.217,"p":398.7},{"t":6.238,"p":398.7},{"t":6.259,"p":398.7},{"t":6.281,"p":398.7},{"t":6.302,"p":398.7},{"t":6.323,"p":398.7},{"t":6.344,"p":398.7},
{"t":6.142,"p":400.9},{"t":6.164,"p":400.9},{"t":6.185,"p":400.9},{"t":6.206,"p":400.9},{"t":6.227,"p":400.9},{"t":6.249,"p":400.9},{"t":6.27,"p":400.9},{"t":6.291,"p":400.9},{"t":6.312,"p":400.9},{"t":6.334,"p":400.9},{"t":6.355,"p":400.9},
{"t":6.153,"p":403.1},{"t":6.174,"p":403.1},{"t":6.196,"p":403.1},{"t":6.217,"p":403.1},{"t":6.238,"p":403.1},{"t":6.259,"p":403.1},{"t":6.281,"p":403.1},{"t":6.302,"p":403.1},{"t":6.323,"p":403.1},{"t":6.344,"p":403.1},{"t":6.366,"p":403.1},{"t":6.387,"p":403.1},
{"t":6.164,"p":405.2},{"t":6.185,"p":405.2},{"t":6.206,"p":405.2},{"t":6.227,"p":405.2},{"t":6.249,"p":405.2},{"t":6.27,"p":405.2},{"t":6.291,"p":405.2},{"t":6.312,"p":405.2},{"t":6.334,"p":405.2},{"t":6.355,"p":405.2},{"t":6.376,"p":405.2},{"t":6.398,"p":405.2},
{"t":6.174,"p":407.4},{"t":6.196,"p":407.4},{"t":6.217,"p":407.4},{"t":6.238,"p":407.4},{"t":6.259,"p":407.4},{"t":6.281,"p":407.4},{"t":6.302,"p":407.4},{"t":6.323,"p":407.4},{"t":6.344,"p":407.4},{"t":6.366,"p":407.4},{"t":6.387,"p":407.4},{"t":6.408,"p":407.4},
{"t":6.185,"p":409.6},{"t":6.206,"p":409.6},{"t":6.227,"p":409.6},{"t":6.249,"p":409.6},{"t":6.27,"p":409.6},{"t":6.291,"p":409.6},{"t":6.312,"p":409.6},{"t":6.334,"p":409.6},{"t":6.355,"p":409.6},{"t":6.376,"p":409.6},{"t":6.398,"p":409.6},
{"t":6.206,"p":411.7},{"t":6.227,"p":411.7},{"t":6.249,"p":411.7},{"t":6.27,"p":411.7},{"t":6.291,"p":411.7},{"t":6.312,"p":411.7},{"t":6.334,"p":411.7},{"t":6.355,"p":411.7},{"t":6.376,"p":411.7},
{"t":6.238,"p":413.9},{"t":6.259,"p":413.9},{"t":6.281,"p":413.9},{"t":6.302,"p":413.9},{"t":6.323,"p":413.9},{"t":6.344,"p":413.9},{"t":6.366,"p":413.9},
{"t":6.27,"p":416},{"t":6.291,"p":416},{"t":6.312,"p":416},{"t":6.334,"p":416},{"t":6.302,"p":418.2},{"t":6.327,"p":418.2},
{"t":6.391,"p":373.9},{"t":6.423,"p":373.9},{"t":6.466,"p":373.9},
{"t":6.359,"p":376},{"t":6.385,"p":376},{"t":6.41,"p":376},{"t":6.436,"p":376},{"t":6.461,"p":376},{"t":6.487,"p":376},{"t":6.512,"p":376},
{"t":6.346,"p":378.2},{"t":6.372,"p":378.2},{"t":6.397,"p":378.2},{"t":6.423,"p":378.2},{"t":6.448,"p":378.2},{"t":6.474,"p":378.2},{"t":6.5,"p":378.2},{"t":6.525,"p":378.2},
{"t":6.359,"p":380.4},{"t":6.385,"p":380.4},{"t":6.41,"p":380.4},{"t":6.436,"p":380.4},{"t":6.461,"p":380.4},{"t":6.487,"p":380.4},{"t":6.512,"p":380.4},{"t":6.538,"p":380.4},{"t":6.563,"p":380.4},
{"t":6.372,"p":382.5},{"t":6.397,"p":382.5},{"t":6.423,"p":382.5},{"t":6.448,"p":382.5},{"t":6.474,"p":382.5},{"t":6.5,"p":382.5},{"t":6.525,"p":382.5},{"t":6.551,"p":382.5},{"t":6.576,"p":382.5},
{"t":6.385,"p":384.7},{"t":6.41,"p":384.7},{"t":6.436,"p":384.7},{"t":6.461,"p":384.7},{"t":6.487,"p":384.7},{"t":6.512,"p":384.7},{"t":6.538,"p":384.7},{"t":6.563,"p":384.7},{"t":6.589,"p":384.7},
{"t":6.41,"p":386.9},{"t":6.436,"p":386.9},{"t":6.461,"p":386.9},{"t":6.487,"p":386.9},{"t":6.512,"p":386.9},{"t":6.538,"p":386.9},{"t":6.563,"p":386.9},{"t":6.589,"p":386.9},
{"t":6.444,"p":389},{"t":6.47,"p":389},{"t":6.495,"p":389},{"t":6.521,"p":389},{"t":6.546,"p":389},{"t":6.572,"p":389},{"t":6.597,"p":389},{"t":6.623,"p":389},
{"t":6.483,"p":391.2},{"t":6.508,"p":391.2},{"t":6.534,"p":391.2},{"t":6.559,"p":391.2},{"t":6.585,"p":391.2},{"t":6.61,"p":391.2},{"t":6.636,"p":391.2},
{"t":6.512,"p":393.3},{"t":6.538,"p":393.3},{"t":6.563,"p":393.3},{"t":6.589,"p":393.3},{"t":6.614,"p":393.3},{"t":6.64,"p":393.3},{"t":6.665,"p":393.3},
{"t":6.546,"p":395.5},{"t":6.572,"p":395.5},{"t":6.597,"p":395.5},{"t":6.623,"p":395.5},{"t":6.648,"p":395.5},{"t":6.674,"p":395.5},
{"t":6.576,"p":397.7},{"t":6.602,"p":397.7},{"t":6.627,"p":397.7},{"t":6.653,"p":397.7},{"t":6.678,"p":397.7},{"t":6.704,"p":397.7},
{"t":6.61,"p":399.8},{"t":6.636,"p":399.8},{"t":6.661,"p":399.8},{"t":6.687,"p":399.8},{"t":6.712,"p":399.8},
{"t":6.731,"p":398},{"t":6.752,"p":398},{"t":6.774,"p":398},{"t":6.795,"p":398},
{"t":6.704,"p":400.2},{"t":6.725,"p":400.2},{"t":6.746,"p":400.2},{"t":6.767,"p":400.2},{"t":6.789,"p":400.2},{"t":6.81,"p":400.2},
{"t":6.693,"p":402.3},{"t":6.714,"p":402.3},{"t":6.736,"p":402.3},{"t":6.757,"p":402.3},{"t":6.778,"p":402.3},{"t":6.799,"p":402.3},{"t":6.821,"p":402.3},
{"t":6.704,"p":404.5},{"t":6.725,"p":404.5},{"t":6.746,"p":404.5},{"t":6.767,"p":404.5},{"t":6.789,"p":404.5},{"t":6.81,"p":404.5},{"t":6.831,"p":404.5},
{"t":6.714,"p":406.7},{"t":6.736,"p":406.7},{"t":6.757,"p":406.7},{"t":6.778,"p":406.7},{"t":6.799,"p":406.7},{"t":6.821,"p":406.7},{"t":6.842,"p":406.7},{"t":6.863,"p":406.7},
{"t":6.736,"p":408.8},{"t":6.757,"p":408.8},{"t":6.778,"p":408.8},{"t":6.799,"p":408.8},{"t":6.821,"p":408.8},{"t":6.842,"p":408.8},{"t":6.863,"p":408.8},
{"t":6.746,"p":411},{"t":6.767,"p":411},{"t":6.789,"p":411},{"t":6.81,"p":411},{"t":6.831,"p":411},{"t":6.852,"p":411},
{"t":6.768,"p":413.2},{"t":6.789,"p":413.2},{"t":6.81,"p":413.2},{"t":6.831,"p":413.2},{"t":6.789,"p":415.3},{"t":6.81,"p":415.3},
{"t":6.206,"p":371.5},{"t":6.151,"p":374.2},{"t":6.227,"p":376},{"t":6.221,"p":379.6},{"t":6.242,"p":381.1},{"t":6.253,"p":377.5},{"t":6.274,"p":378.7},{"t":6.3,"p":377.5},{"t":6.317,"p":376},{"t":6.334,"p":378.7},{"t":6.338,"p":375.1},{"t":6.274,"p":382.3},{"t":6.21,"p":383.2},{"t":6.168,"p":386.5},{"t":6.295,"p":385},{"t":6.317,"p":386.9},{"t":6.334,"p":389.6},{"t":6.349,"p":391.9},{"t":6.264,"p":388.7},{"t":6.285,"p":390.5},{"t":6.153,"p":389},{"t":6.178,"p":390.1},{"t":6.21,"p":390.5},{"t":6.349,"p":394.1},{"t":6.364,"p":395.9},{"t":6.376,"p":398.6},{"t":6.391,"p":401.3},
{"t":6.151,"p":408.1},{"t":6.168,"p":410.6},{"t":6.359,"p":420.2},{"t":6.327,"p":420.2},{"t":6.349,"p":421.4},{"t":6.391,"p":418.9},{"t":6.402,"p":421.1},{"t":6.427,"p":420.2},{"t":6.444,"p":421.4},{"t":6.455,"p":423.2},{"t":6.47,"p":422},{"t":6.476,"p":424.3},{"t":6.508,"p":426.9},{"t":6.44,"p":410.3},{"t":6.449,"p":409.9},{"t":6.466,"p":412.1},{"t":6.427,"p":405.2},
{"t":6.572,"p":406.7},{"t":6.551,"p":408.5},{"t":6.583,"p":404.9},{"t":6.593,"p":403.1},{"t":6.636,"p":402.2},{"t":6.657,"p":404},{"t":6.614,"p":400.9},{"t":6.636,"p":408.5},{"t":6.657,"p":406.7},{"t":6.683,"p":405.8},{"t":6.88,"p":408.1},{"t":6.902,"p":408.1},{"t":6.923,"p":408.5},{"t":6.929,"p":402.2},{"t":6.876,"p":416.9},{"t":6.7,"p":416.6},{"t":6.731,"p":416.6},{"t":6.753,"p":415.7},{"t":6.731,"p":420.7},{"t":6.71,"p":412.1},{"t":6.742,"p":395.9},{"t":6.774,"p":399.1}
]
},
"layer":[
{"data":{"name":"P"},
 "mark":{"type":"point","shape":"diamond","filled":true,"size":34,"color":"#0000ff","opacity":1},
 "encoding":{
  "x":{"field":"d","type":"quantitative","scale":{"domain":[0,423.7],"nice":false,"zero":false},
   "axis":{"orient":"bottom","values":[0,40,80,120,160,200,240,280,320,360,400],"labelExpr":"utcFormat(datum.value*86400000+909446400000, '%m/%d/%y')","title":null,"grid":false,"tickSize":-6,"tickColor":"#000000","domainColor":"#000000","labelColor":"#000000","labelPadding":12}},
  "y":{"field":"p","type":"quantitative","scale":{"domain":[360,440],"reverse":true,"nice":false,"zero":false},
   "axis":{"orient":"left","values":[360,380,400,420,440],"format":"d","title":"Pressure, dbar","titleColor":"#0000ff","labelColor":"#0000ff","domainColor":"#0000ff","tickColor":"#0000ff","tickSize":-6,"labelPadding":10,"titlePadding":8,"grid":false}}}},
{"data":{"name":"T"},
 "mark":{"type":"point","shape":"diamond","filled":true,"size":34,"color":"#008000","opacity":1},
 "encoding":{
  "x":{"field":"d","type":"quantitative","scale":{"domain":[0,423.7],"nice":false,"zero":false},
   "axis":{"orient":"top","values":[0,40,80,120,160,200,240,280,320,360,400],"labels":false,"title":null,"grid":false,"tickSize":-6,"tickColor":"#000000","domainColor":"#000000"}},
  "y":{"field":"t","type":"quantitative","scale":{"domain":[5.5,7.5],"nice":false,"zero":false},
   "axis":{"orient":"right","values":[5.5,6,6.5,7,7.5],"format":"~g","title":"Temperature, °C","titleAngle":270,"titleBaseline":"top","titleColor":"#008000","labelColor":"#008000","domainColor":"#008000","tickColor":"#008000","tickSize":-6,"labelPadding":9,"titlePadding":6,"grid":true,"gridColor":"#008000","gridDash":[1,3],"gridOpacity":1,"gridWidth":1}}}},
{"data":{"name":"P"},
 "mark":{"type":"point","opacity":0},
 "encoding":{
  "x":{"field":"d","type":"quantitative","scale":{"domain":[0,423.7],"nice":false,"zero":false},
   "axis":{"orient":"bottom","values":[10,20,30,50,60,70,90,100,110,130,140,150,170,180,190,210,220,230,250,260,270,290,300,310,330,340,350,370,380,390,410,420],"labels":false,"domain":false,"title":null,"grid":false,"tickSize":-3,"tickColor":"#000000"}},
  "y":{"field":"p","type":"quantitative","scale":{"domain":[360,440],"reverse":true,"nice":false,"zero":false},"axis":null}}},
{"data":{"values":[{"t1":5.5,"t2":7,"p1":360,"p2":440}]},
 "mark":{"type":"rect","fill":"#ffffff","strokeWidth":0},
 "encoding":{
  "x":{"field":"t1","type":"quantitative","scale":{"domain":[5.5,7],"range":[40,275],"nice":false,"zero":false},
   "axis":{"orient":"top","offset":-13,"values":[5.5,6,6.5,7],"labels":false,"title":null,"tickSize":-5,"tickColor":"#000000","domainColor":"#000000","grid":true,"gridColor":"#000000","gridDash":[1,3],"gridOpacity":1,"zindex":1}},
  "x2":{"field":"t2"},
  "y":{"field":"p1","type":"quantitative","scale":{"domain":[360,440],"range":[13,161],"nice":false,"zero":false},
   "axis":{"orient":"right","offset":-319,"values":[360,380,400,420,440],"labels":false,"title":null,"tickSize":-5,"tickColor":"#000000","domainColor":"#000000","grid":false,"zindex":1}},
  "y2":{"field":"p2"}}},
{"data":{"name":"I"},
 "mark":{"type":"point","shape":"diamond","filled":true,"size":38,"color":"#000000","opacity":1},
 "encoding":{
  "x":{"field":"t","type":"quantitative","scale":{"domain":[5.5,7],"range":[40,275],"nice":false,"zero":false},
   "axis":{"orient":"bottom","offset":-309,"values":[5.5,6,6.5,7],"format":"~g","title":"Temperature, °C","titleColor":"#000000","labelColor":"#000000","tickSize":-5,"labelPadding":9,"titlePadding":4,"domainColor":"#000000","tickColor":"#000000","grid":false,"zindex":1}},
  "y":{"field":"p","type":"quantitative","scale":{"domain":[360,440],"range":[13,161],"nice":false,"zero":false},
   "axis":{"orient":"left","offset":-40,"values":[360,380,400,420,440],"format":"d","title":"Pressure, dbar","titleColor":"#000000","labelColor":"#000000","tickSize":-5,"labelPadding":8,"titlePadding":10,"domainColor":"#000000","tickColor":"#000000","grid":true,"gridColor":"#000000","gridDash":[1,3],"gridOpacity":1,"zindex":1}}}}
],
"resolve":{"scale":{"x":"independent","y":"independent"},"axis":{"x":"independent","y":"independent"}}
}
